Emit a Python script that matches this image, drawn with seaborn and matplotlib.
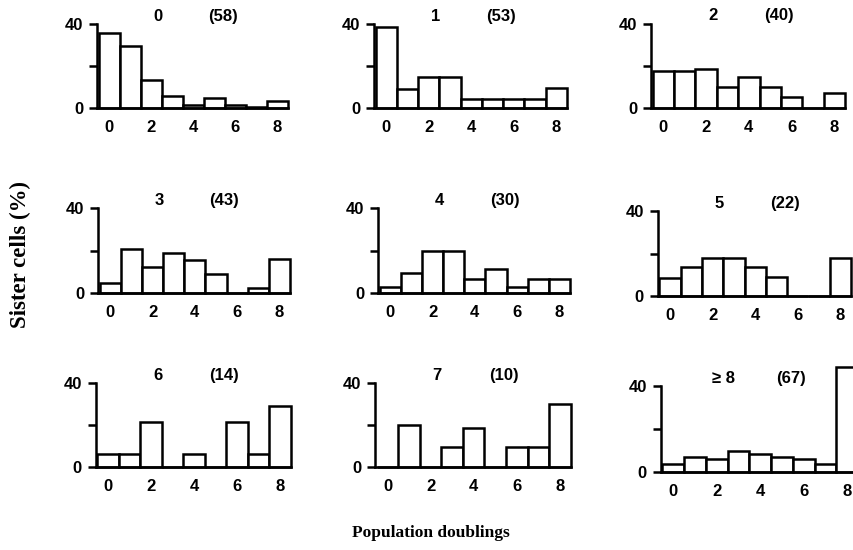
import numpy as np
import pandas as pd
import matplotlib
matplotlib.use("Agg")
import matplotlib.pyplot as plt
import seaborn as sns

# ---- data ----
doublings = [0, 1, 2, 3, 4, 5, 6, 7, 8]
panel_labels = ["0", "1", "2", "3", "4", "5", "6", "7", "\u2265 8"]
panel_counts = [58, 53, 40, 43, 30, 22, 14, 10, 67]

pct_0 = [36, 29.5, 13.5, 5.5, 1.2, 5, 1.5, 0.5, 3.2]
pct_1 = [38.5, 9, 14.8, 14.8, 4, 4, 4, 4, 9.3]
pct_2 = [17.5, 17.5, 18.5, 10, 14.5, 10, 5, 0, 7]
pct_3 = [5, 21, 12.5, 19, 15.7, 8.9, 0, 2.4, 16]
pct_4 = [3, 9.5, 20, 20, 6.5, 11.5, 3, 6.5, 6.5]
pct_5 = [8.5, 13.8, 17.8, 17.8, 13.8, 8.8, 0, 0, 18]
pct_6 = [6.5, 6.5, 21.6, 0, 6.5, 0, 21.6, 6.5, 29]
pct_7 = [0, 20, 0, 9.5, 18.5, 0, 9.5, 9.5, 30]
pct_8 = [3.5, 7, 5.7, 9.8, 8.2, 7, 5.7, 3.5, 48.5]

all_pcts = [pct_0, pct_1, pct_2, pct_3, pct_4, pct_5, pct_6, pct_7, pct_8]

rows = []
for p, vals in enumerate(all_pcts):
    for d, v in zip(doublings, vals):
        rows.append({"panel": p, "doubling": d, "percent": v})
df = pd.DataFrame(rows)

sns.set_theme(style="white")
plt.rcParams["font.family"] = ["Liberation Sans", "DejaVu Sans"]
plt.rcParams["text.color"] = "black"
plt.rcParams["xtick.color"] = "black"
plt.rcParams["ytick.color"] = "black"
plt.rcParams["axes.labelcolor"] = "black"

W, H = 854, 550
fig = plt.figure(figsize=(W / 100, H / 100), dpi=100)

# panel boxes in pixels: (left, right, top(40), bottom(0))
boxes = [
    (97, 288, 24.3, 108),
    (374, 567, 24.3, 107.7),
    (651, 845, 23.5, 107.7),
    (98, 290, 208.3, 293.3),
    (378, 570, 208.3, 293.3),
    (657.7, 851, 211, 296),
    (95.7, 291, 383.3, 467.3),
    (375, 570.7, 382.7, 467.3),
    (660.7, 858, 385.7, 471.7),
]

tick_fs = 12
lw = 1.8
for p, (l, r, t, b) in enumerate(boxes):
    ax = fig.add_axes([l / W, 1 - b / H, (r - l) / W, (b - t) / H])
    sub = df[df["panel"] == p]
    sns.barplot(data=sub, x="doubling", y="percent", order=doublings, ax=ax,
                color="white", edgecolor="black", linewidth=lw, width=1.0,
                saturation=1, errorbar=None)
    for patch in ax.patches:
        patch.set_clip_on(False)
    ax.set_xlim(-0.58, 8.5)
    ax.set_ylim(0, 40)
    ax.set_xticks([0, 2, 4, 6, 8])
    ax.set_xticklabels(["0", "2", "4", "6", "8"], fontsize=tick_fs, fontweight="bold")
    ax.set_yticks([0, 20, 40])
    ax.set_yticklabels(["0", "", "40"], fontsize=tick_fs, fontweight="bold")
    ax.tick_params(axis="x", length=0, pad=8.5)
    ax.tick_params(axis="y", length=6, width=lw, pad=4, direction="out", left=True)
    ax.set_xlabel("")
    ax.set_ylabel("")
    for s in ["top", "right"]:
        ax.spines[s].set_visible(False)
    for s in ["left", "bottom"]:
        ax.spines[s].set_linewidth(lw)
        ax.spines[s].set_color("black")
    ax.patch.set_alpha(0)
    ax.annotate(panel_labels[p], xy=(2.3, 1), xycoords=("data", "axes fraction"),
                xytext=(0, 5.5), textcoords="offset points", ha="center", va="center",
                fontsize=tick_fs, fontweight="bold", annotation_clip=False)
    ax.annotate(f"({panel_counts[p]})", xy=(5.4, 1), xycoords=("data", "axes fraction"),
                xytext=(0, 5.5), textcoords="offset points", ha="center", va="center",
                fontsize=tick_fs, fontweight="bold", annotation_clip=False)

fig.text(20 / W, 1 - 254 / H, "Sister cells (%)", rotation=90, ha="center", va="center",
         fontsize=16.5, fontweight="bold", family=["Liberation Serif", "DejaVu Serif"])
fig.text(431 / W, 1 - 533 / H, "Population doublings", ha="center", va="center",
         fontsize=12.5, fontweight="bold", family=["Liberation Serif", "DejaVu Serif"])

fig.savefig("out.png", dpi=100)
